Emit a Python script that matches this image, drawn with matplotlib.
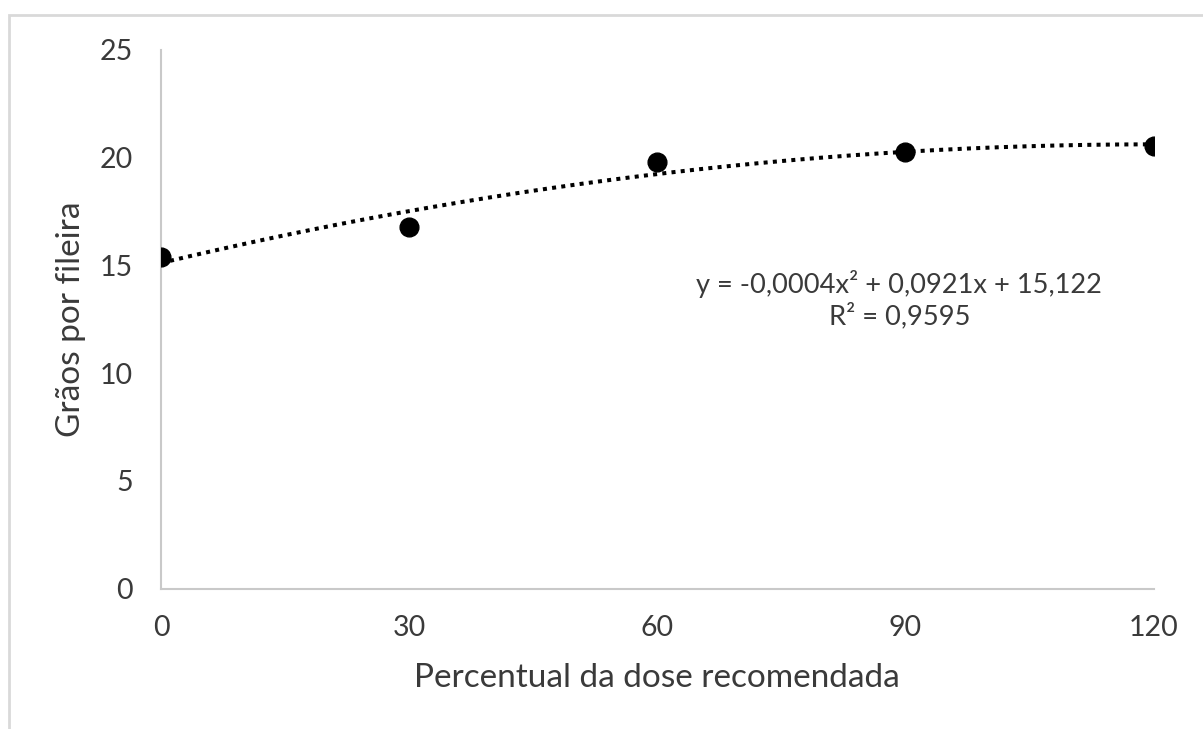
import numpy as np
import matplotlib
matplotlib.use("Agg")
import matplotlib.pyplot as plt
from matplotlib.patches import Rectangle

# dose (% of recommended) vs grains per row
dose = [0, 30, 60, 90, 120]
graos = [15.38, 16.80, 19.80, 20.25, 20.54]
eq_text = "y = -0,0004x\u00b2 + 0,0921x + 15,122\nR\u00b2 = 0,9595"

plt.rcParams['font.family'] = ['Lato', 'DejaVu Sans']
txt_color = '#3a3a3a'
spine_color = '#c9c9c9'

fig = plt.figure(figsize=(12.03, 7.29), dpi=100)
ax = fig.add_axes([161/1203, 1 - 588.5/729, (1153.5 - 161)/1203, (588.5 - 50)/729])

# polynomial trendline (order 2) fitted to the points
coef = np.polyfit(dose, graos, 2)
xs = np.linspace(min(dose), max(dose), 200)
ax.plot(xs, np.polyval(coef, xs), color='black', lw=2.9,
        linestyle=(0, (1, 1.3)), dash_capstyle='butt', zorder=2)
ax.plot(dose, graos, 'o', color='black', markersize=13.5, zorder=3)

ax.set_xlim(0, 120)
ax.set_ylim(0, 25)
ax.set_xticks(dose)
ax.set_yticks([0, 5, 10, 15, 20, 25])
ax.tick_params(length=0, labelsize=20.5, colors=txt_color)
ax.tick_params(axis='y', pad=20)
ax.tick_params(axis='x', pad=19)
for s in ['top', 'right']:
    ax.spines[s].set_visible(False)
for s in ['left', 'bottom']:
    ax.spines[s].set_color(spine_color)
    ax.spines[s].set_linewidth(1.5)
ax.spines['left'].set_zorder(1)

ax.set_xlabel('Percentual da dose recomendada', fontsize=24, color=txt_color, labelpad=16)
ax.set_ylabel('Grãos por fileira', fontsize=24, color=txt_color, labelpad=10)

ax.text(0.744, 0.536, eq_text, transform=ax.transAxes, ha='center', va='center',
        fontsize=19.6, color=txt_color, linespacing=1.2)

# chart area border
fig.patches.append(Rectangle((9/1203, -0.1), 1.2, 1.1 - 15/729,
                             transform=fig.transFigure, fill=False,
                             edgecolor='#d9d9d9', lw=2))

fig.savefig('out.png', dpi=100)
